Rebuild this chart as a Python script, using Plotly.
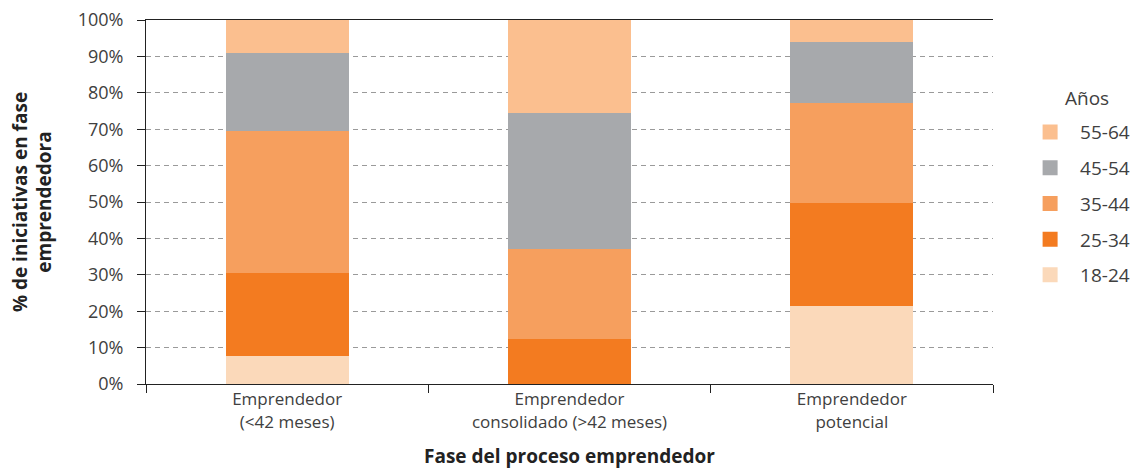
import plotly.graph_objects as go

categories = ["Emprendedor<br>(<42 meses)", "Emprendedor<br>consolidado (>42 meses)", "Emprendedor<br>potencial"]
age_groups = ["18-24", "25-34", "35-44", "45-54", "55-64"]
values_18_24 = [7.7, 0.0, 21.4]
values_25_34 = [22.8, 12.4, 28.4]
values_35_44 = [39.0, 24.7, 27.4]
values_45_54 = [21.4, 37.4, 16.8]
values_55_64 = [9.1, 25.5, 6.0]
series = [values_18_24, values_25_34, values_35_44, values_45_54, values_55_64]
colors = ["#FBD9BA", "#F37B20", "#F69F5E", "#A7A9AC", "#FBBF8F"]

fig = go.Figure()
for i, (name, vals, col) in enumerate(zip(age_groups, series, colors)):
    fig.add_trace(go.Bar(
        x=categories, y=vals, name=name, legendgroup=name,
        showlegend=False,
        marker=dict(color=col, line=dict(width=0)),
        width=0.436,
    ))
    # legend entry with a larger square swatch
    fig.add_trace(go.Scatter(
        x=[None], y=[None], mode="markers", name=name, legendgroup=name,
        legendrank=1000 - i,
        marker=dict(symbol="square", size=15, color=col,
                    line=dict(width=0)),
    ))

font_family = "Open Sans, Noto Sans, sans-serif"
fig.update_layout(
    barmode="stack",
    width=1134, height=469,
    margin=dict(l=146, r=141, t=20, b=85, autoexpand=False),
    plot_bgcolor="white", paper_bgcolor="white",
    font=dict(family=font_family, size=16, color="#404040"),
    showlegend=True,
    legend=dict(
        x=1.032, y=0.744, xanchor="left", yanchor="top",
        traceorder="grouped", tracegroupgap=8,
        font=dict(size=19, color="#404040"),
        itemwidth=50,
    ),
    xaxis=dict(
        showline=True, linecolor="#222222", linewidth=1, mirror=True,
        ticks="outside", tickson="boundaries", ticklen=8, tickcolor="#222222",
        title=dict(text="<b>Fase del proceso emprendedor</b>", font=dict(size=19, color="#222222"), standoff=19),
        tickfont=dict(size=17, color="#404040"),
        automargin=False,
    ),
    yaxis=dict(
        range=[0, 100], dtick=10, ticksuffix="%",
        showline=True, linecolor="#222222", linewidth=1,
        ticks="outside", ticklen=8, tickcolor="#222222",
        ticklabelstandoff=10, ticklabeloverflow="allow",
        showgrid=True, gridcolor="#9a9a9a", griddash="5px,4px", gridwidth=1,
        zeroline=False,
        title=dict(text="<b>% de iniciativas en fase<br>emprendedora</b>", font=dict(size=19, color="#222222"), standoff=20),
        tickfont=dict(size=18, color="#404040"),
        automargin=False,
    ),
    annotations=[dict(
        text="Años", xref="paper", yref="paper", x=1.111, y=0.786,
        xanchor="center", yanchor="middle", showarrow=False,
        font=dict(size=19, color="#404040"),
    )],
)

fig.write_html("out.html", config={"displayModeBar": False},
               post_script="document.body.style.margin='0';")
